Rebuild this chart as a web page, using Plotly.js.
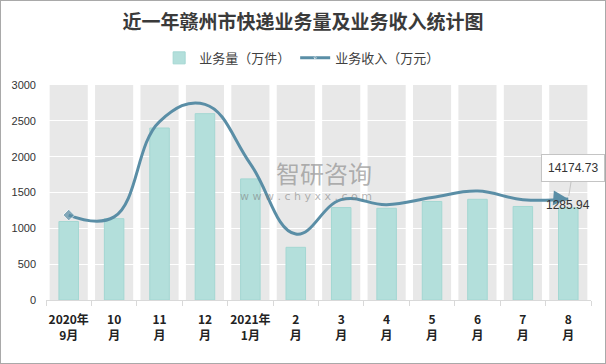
<!DOCTYPE html>
<html>
<head>
<meta charset="utf-8">
<script src="https://cdn.plot.ly/plotly-3.0.1.min.js"></script>
<style>
html,body{margin:0;padding:0;background:#fff;}
#chart{width:606px;height:364px;box-sizing:border-box;border:1px solid #a9a9a9;}
</style>
</head>
<body>
<div id="chart"></div>
<script>
const categories = ["2020年<br>9月","10<br>月","11<br>月","12<br>月","2021年<br>1月","2<br>月","3<br>月","4<br>月","5<br>月","6<br>月","7<br>月","8<br>月"];
const volume = [1095, 1135, 2400, 2600, 1690, 735, 1290, 1280, 1375, 1405, 1305, 1285.94];
const revenue = [1185, 1160, 2490, 2730, 1900, 920, 1400, 1330, 1430, 1520, 1400, 1410];
const revenueLastLabel = "14174.73";
const volumeLastLabel = "1285.94";
const yTicks = [0, 500, 1000, 1500, 2000, 2500, 3000];

const n = categories.length;
const yMax = yTicks[yTicks.length - 1];
const lineColor = '#5a8ea6';

const bandShapes = categories.map((c, i) => ({
  type: 'rect', layer: 'below', xref: 'x', yref: 'y',
  x0: i - 0.42, x1: i + 0.42, y0: 0, y1: yMax,
  fillcolor: '#e8e8e8', line: {width: 0}
}));

const markerSizes = revenue.map((v, i) => i === 0 ? 9 : 0);

const traces = [
  {
    type: 'bar', name: '业务量（万件）', x: categories, y: volume,
    width: 0.43,
    marker: {color: '#b3dfdb', line: {color: '#a3d7d2', width: 1}},
    hoverinfo: 'skip'
  },
  {
    type: 'scatter', mode: 'lines+markers', name: '业务收入（万元）',
    x: categories, y: revenue,
    line: {color: lineColor, width: 3, shape: 'spline', smoothing: 1.2},
    marker: {color: lineColor, size: markerSizes, symbol: 'diamond'},
    hoverinfo: 'skip'
  }
];

const layout = {
  width: 604, height: 362,
  margin: {l: 45, r: 14, t: 84, b: 63},
  paper_bgcolor: '#ffffff', plot_bgcolor: '#ffffff',
  font: {family: '"Noto Sans CJK SC", "Liberation Sans", sans-serif', color: '#404040'},
  title: {
    text: '<b>近一年赣州市快递业务量及业务收入统计图</b>',
    x: 0.5, xanchor: 'center', y: 0.942, yanchor: 'middle', yref: 'container',
    font: {size: 19, color: '#3a3a3a', family: '"Noto Sans CJK SC", sans-serif'}
  },
  barmode: 'overlay',
  showlegend: true,
  legend: {
    orientation: 'h', x: 0.47, xanchor: 'center', y: 1.126, yanchor: 'middle',
    font: {size: 13, color: '#404040'}, itemwidth: 30, bgcolor: 'rgba(0,0,0,0)'
  },
  xaxis: {
    type: 'category', showgrid: false, zeroline: false,
    showline: true, linecolor: '#d9d9d9', linewidth: 1,
    ticks: 'outside', tickson: 'boundaries', ticklen: 5, tickcolor: '#d9d9d9',
    tickangle: 0, automargin: false, ticklabelstandoff: 9,
    tickfont: {size: 12, color: '#222222', family: '"Noto Sans CJK SC", sans-serif', weight: 'bold'},
    range: [-0.5, n - 0.5], fixedrange: true
  },
  yaxis: {
    range: [0, yMax], tickvals: yTicks, ticktext: yTicks.map(String),
    showgrid: true, gridcolor: '#ffffff', gridwidth: 1.3,
    zeroline: false, showline: false, ticks: '',
    ticklabelstandoff: 9,
    tickfont: {size: 11, color: '#333333', family: '"Liberation Sans", Arial, sans-serif'},
    fixedrange: true
  },
  shapes: bandShapes,
  annotations: [
    {
      x: categories[n - 1], y: revenue[n - 1], xref: 'x', yref: 'y',
      text: '', showarrow: true, arrowhead: 2, arrowsize: 1, arrowwidth: 3,
      arrowcolor: lineColor, ax: -14, ay: -1, standoff: 0
    },
    {
      x: categories[n - 1], y: revenue[n - 1], xref: 'x', yref: 'y',
      text: revenueLastLabel, showarrow: true, arrowhead: 0, arrowwidth: 1,
      arrowcolor: '#c4c4c4', ax: 5, ay: -31, standoff: 3,
      bgcolor: '#ffffff', bordercolor: '#c4c4c4', borderwidth: 1, borderpad: 6,
      font: {size: 12, color: '#333333', family: '"Liberation Sans", Arial, sans-serif'}
    },
    {
      x: categories[n - 1], y: volume[n - 1], xref: 'x', yref: 'y',
      text: volumeLastLabel, showarrow: false, yanchor: 'middle', yshift: 3,
      font: {size: 12, color: '#333333', family: '"Liberation Sans", Arial, sans-serif'}
    },
    {
      xref: 'paper', yref: 'paper', x: 0.6, xanchor: 'right', y: 0.595, showarrow: false, borderpad: 0,
      text: '智研咨询', font: {size: 24, color: 'rgba(120,120,120,0.55)', family: '"Noto Sans CJK SC", sans-serif'}
    },
    {
      xref: 'paper', yref: 'paper', x: 0.6, xanchor: 'right', y: 0.48, showarrow: false, borderpad: 0,
      text: 'w w w . c h y x x . c o m', font: {size: 11, color: 'rgba(120,120,120,0.55)', family: '"DejaVu Sans", sans-serif'}
    }
  ]
};

Plotly.newPlot('chart', traces, layout, {displayModeBar: false, staticPlot: true});
</script>
</body>
</html>
